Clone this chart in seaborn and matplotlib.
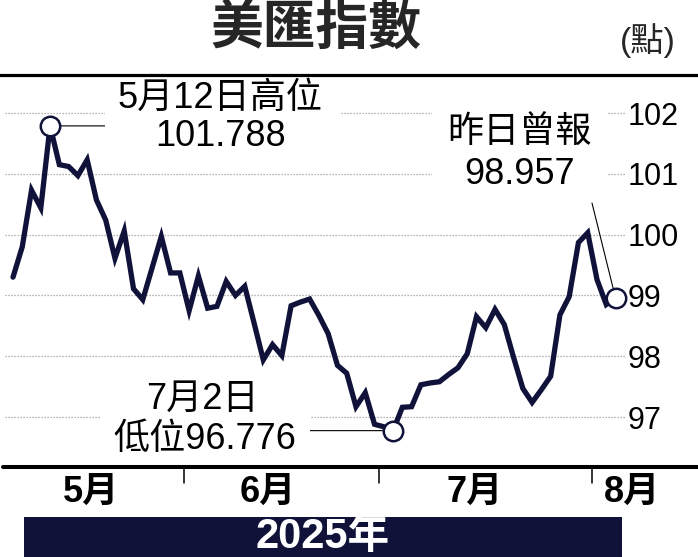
import numpy as np
import pandas as pd
import seaborn as sns
import matplotlib.pyplot as plt
import matplotlib.transforms as mtransforms
from matplotlib.patches import Rectangle
from matplotlib.lines import Line2D

W, H = 698, 557
NAVY = '#10123a'

# US dollar index, daily close
dates = pd.bdate_range('2025-05-06', '2025-08-05')
values = [
    # May
    99.30, 99.80, 100.73, 100.44, 101.788, 101.15, 101.12, 100.97, 101.23, 100.57,
    100.24, 99.61, 100.06, 99.11, 98.93, 99.45, 99.97, 99.37, 99.37,
    # June
    98.75, 99.32, 98.79, 98.82, 99.23, 99.00, 99.15, 98.55, 97.94, 98.19,
    98.01, 98.83, 98.89, 98.94, 98.67, 98.37, 97.85, 97.72, 97.17, 97.40, 96.88,
    # July
    96.84, 96.776, 97.16, 97.17, 97.53, 97.56, 97.58, 97.70, 97.81, 98.04,
    98.65, 98.47, 98.77, 98.52, 97.98, 97.47, 97.24, 97.45, 97.67, 98.68,
    98.98, 99.87, 100.03,
    # August
    99.26, 98.85, 98.957,
]
month_names = ['5月', '6月', '7月', '8月']
y_ticks = [97, 98, 99, 100, 101, 102]
high_date, high_label = '2025-05-12', '5月12日高位'
low_date, low_label = '2025-07-02', '7月2日'
last_label = '昨日曾報'

df = pd.DataFrame({'date': dates, 'value': values})
df['idx'] = np.arange(len(df))
df['month'] = df['date'].dt.month


def fx(px):
    return px / W


def fy(py):
    return 1 - py / H


sns.set_theme(style='white')
plt.rcParams['font.family'] = ['Liberation Sans', 'Noto Sans CJK TC']

fig = plt.figure(figsize=(W / 100, H / 100), dpi=100)
ax = fig.add_axes([fx(5), fy(467), fx(625) - fx(5), fy(75) - fy(467)])

sns.lineplot(data=df, x='idx', y='value', ax=ax, color=NAVY, linewidth=3.8, zorder=4)
ax.lines[0].set_solid_joinstyle('miter')

ax.set_xlim(-0.863, 66.02)
ax.set_ylim(96.178, 102.625)
ax.set_yticks(y_ticks)
ax.set_yticklabels([str(t) for t in y_ticks], fontsize=22, color='black')
ax.set_xticks([])
ax.set_xlabel('')
ax.set_ylabel('')
ax.tick_params(axis='y', left=False, right=True, labelleft=False, labelright=True, length=0, pad=2)
ax.grid(axis='y', color='#9a9a9a', linewidth=0.9, linestyle=(0, (1, 1.4)))
ax.grid(axis='x', visible=False)
for s in ax.spines.values():
    s.set_visible(False)

# marked points
hi = df.loc[df['date'] == high_date].iloc[0]
lo = df.loc[df['date'] == low_date].iloc[0]
last = df.iloc[-1]
ax.plot([hi['idx'], lo['idx'], last['idx']], [hi['value'], lo['value'], last['value']], 'o',
        ms=14, mfc='white', mec=NAVY, mew=1.8, zorder=6, clip_on=False)

arrow = dict(arrowstyle='-', color='black', lw=0.8, shrinkA=0, shrinkB=0)
ax.annotate('', xy=(hi['idx'], hi['value']), xytext=(fx(105), hi['value']),
            textcoords=('figure fraction', 'data'), arrowprops=arrow, zorder=5)
ax.annotate('', xy=(lo['idx'], lo['value']), xytext=(fx(308), lo['value']),
            textcoords=('figure fraction', 'data'), arrowprops=arrow, zorder=5)
ax.annotate('', xy=(last['idx'], last['value']), xytext=(fx(592), fy(203)),
            textcoords='figure fraction', arrowprops=arrow, zorder=5)

# month separators and labels
trans = mtransforms.blended_transform_factory(ax.transData, ax.transAxes)
firsts = df.groupby('month')['idx'].min().values
for f in firsts[1:]:
    ax.plot([f - 0.5, f - 0.5], [0, -0.041], color='black', lw=1.1, transform=trans, clip_on=False)
month_label_x = [8.4, 27.5, 49.8, 66.8]
for name, xpos in zip(month_names, month_label_x):
    ax.text(xpos, -0.064, name, transform=trans, ha='center', va='center',
            fontsize=26, fontweight='bold', color='black')

# white boxes behind the notes
for x0, y0, x1, y1 in [(105, 78, 340, 158), (432, 100, 608, 195), (100, 380, 310, 462)]:
    fig.add_artist(Rectangle((fx(x0), fy(y1)), fx(x1) - fx(x0), fy(y0) - fy(y1),
                             transform=fig.transFigure, fc='white', ec='none', zorder=1))

note = dict(ha='center', va='center', fontsize=26, color='black', zorder=2)
fig.text(fx(220), fy(98), high_label, **note)
fig.text(fx(221), fy(137), f"{hi['value']:.3f}", **note)
fig.text(fx(520), fy(133), last_label, **note)
fig.text(fx(520), fy(175), f"{last['value']:.3f}", **note)
fig.text(fx(202), fy(399), low_label, **note)
fig.text(fx(205), fy(440), f"低位{lo['value']:.3f}", **note)

# header and frame lines
fig.text(fx(316), fy(28), '美匯指數', ha='center', va='center', fontsize=38, fontweight='bold',
         family=['Noto Sans CJK TC'])
fig.text(fx(648), fy(41), '(點)', ha='center', va='center', fontsize=24)
fig.add_artist(Line2D([0, 1], [fy(75), fy(75)], color='black', lw=2.3, zorder=3))
fig.add_artist(Line2D([fx(3), 1], [fy(467), fy(467)], color='black', lw=2.9, zorder=3))

# year bar
fig.add_artist(Rectangle((fx(24), 0), fx(622) - fx(24), fy(517), transform=fig.transFigure,
                         fc=NAVY, ec='none', zorder=1))
fig.text(fx(323), fy(537), '2025年', ha='center', va='center', fontsize=30, fontweight='bold',
         color='white', zorder=2)

fig.savefig('out.png', dpi=100)
